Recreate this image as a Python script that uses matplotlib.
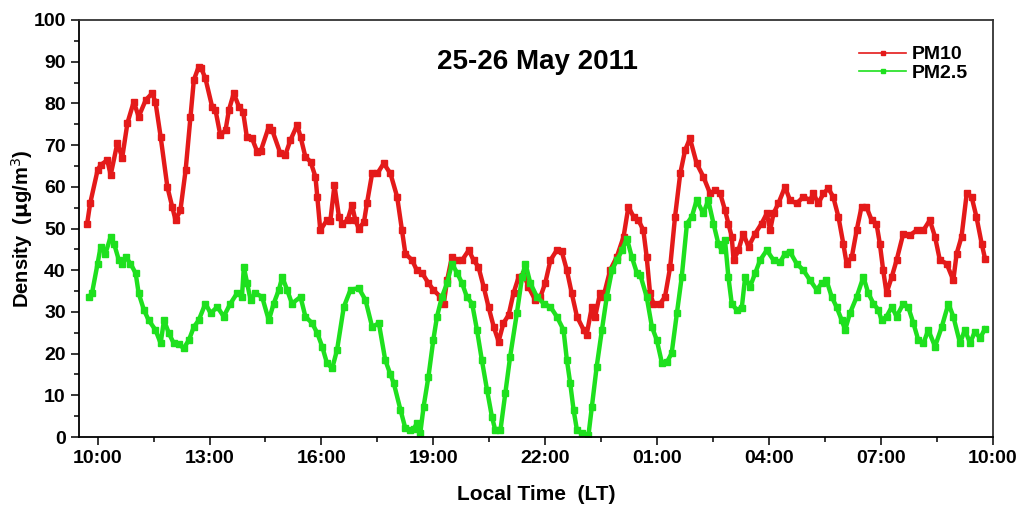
import matplotlib
matplotlib.use('Agg')
import matplotlib.pyplot as plt
from matplotlib.ticker import MultipleLocator

plt.rcParams['font.family'] = ['Liberation Sans', 'DejaVu Sans']

# hours after 10:00 LT on 25 May
t_pm10 = [-0.28, -0.2, 0.0, 0.08, 0.26, 0.35, 0.53, 0.66, 0.8, 0.97,
          1.1, 1.29, 1.46, 1.55, 1.69, 1.87, 2.0, 2.09, 2.22, 2.36,
          2.49, 2.58, 2.71, 2.78, 2.89, 3.07, 3.16, 3.29, 3.43, 3.52,
          3.65, 3.79, 3.9, 4.0, 4.14, 4.28, 4.37, 4.59, 4.68, 4.9,
          5.03, 5.17, 5.35, 5.44, 5.57, 5.71, 5.84, 5.89, 5.97, 6.15,
          6.24, 6.35, 6.47, 6.56, 6.7, 6.82, 6.91, 7.0, 7.14, 7.22,
          7.36, 7.5, 7.67, 7.85, 8.03, 8.16, 8.25, 8.43, 8.56, 8.7,
          8.87, 9.0, 9.19, 9.28, 9.37, 9.5, 9.64, 9.77, 9.95, 10.08,
          10.21, 10.35, 10.48, 10.62, 10.75, 10.88, 11.02, 11.15, 11.29, 11.42,
          11.55, 11.73, 11.87, 12.0, 12.14, 12.31, 12.44, 12.58, 12.71, 12.85,
          13.03, 13.11, 13.25, 13.34, 13.47, 13.56, 13.74, 13.92, 14.1, 14.23,
          14.37, 14.5, 14.63, 14.72, 14.81, 14.9, 15.08, 15.21, 15.35, 15.48,
          15.62, 15.75, 15.88, 16.06, 16.24, 16.42, 16.56, 16.69, 16.82, 16.91,
          17.0, 17.05, 17.18, 17.31, 17.45, 17.63, 17.8, 17.94, 18.03, 18.12,
          18.25, 18.43, 18.56, 18.74, 18.92, 19.1, 19.19, 19.32, 19.46, 19.59,
          19.72, 19.86, 19.99, 20.08, 20.22, 20.35, 20.48, 20.61, 20.75, 20.88,
          20.97, 21.06, 21.15, 21.29, 21.42, 21.6, 21.78, 21.96, 22.14, 22.31,
          22.45, 22.58, 22.76, 22.94, 23.03, 23.16, 23.3, 23.43, 23.56, 23.7,
          23.79]
pm10 = [51.2, 56, 64, 65.2, 66.4, 62.8, 70.5, 67, 75.3, 80.4,
        76.8, 80.8, 82.4, 80.4, 72, 60, 55.2, 52, 54.4, 64,
        76.8, 85.6, 88.8, 88.4, 86, 79.2, 78.4, 72.4, 73.6, 78.4,
        82.4, 79.2, 78, 72, 71.6, 68.4, 68.5, 74.4, 73.6, 68,
        67.6, 71.2, 74.8, 72, 67.2, 66, 62.4, 57.6, 49.6, 52,
        51.9, 60.4, 52.8, 51.2, 52, 55.6, 52, 50, 51.5, 56,
        63.2, 63.2, 65.6, 63.2, 57.6, 49.6, 44, 42.4, 40, 39.3,
        36.9, 35.3, 33.6, 32, 37.6, 43.2, 42.4, 42.4, 44.8, 42.4,
        40.8, 36, 31.2, 26.4, 22.9, 27.3, 29.3, 34.5, 38.4, 39.2,
        36, 32.9, 33.6, 36.9, 42.4, 44.8, 44.6, 40, 34.5, 28.9,
        25.7, 24.5, 31.2, 28.9, 34.5, 33.6, 40, 43.2, 48, 55.2,
        52.8, 52, 49.6, 43.2, 34.5, 32, 32, 33.6, 40.8, 52.8,
        63.2, 68.8, 71.6, 65.6, 62.4, 58.4, 59.2, 58.4, 54.4, 51.2,
        48, 42.4, 44.8, 48.8, 45.6, 48.8, 51.2, 53.6, 49.6, 53.6,
        56, 60, 56.8, 56, 57.6, 56.8, 58.4, 56, 58.4, 59.6,
        57.6, 52.8, 46.4, 41.6, 43.2, 49.6, 55.2, 55.2, 52, 51.2,
        46.4, 40, 34.5, 38.4, 42.4, 48.8, 48.4, 49.6, 49.6, 52,
        48, 42.4, 41.6, 37.6, 44, 48, 58.4, 57.6, 52.8, 46.4,
        42.8]

t_pm25 = [-0.23, -0.15, 0.0, 0.08, 0.21, 0.35, 0.44, 0.57, 0.66, 0.75,
          0.88, 1.02, 1.1, 1.24, 1.37, 1.55, 1.69, 1.78, 1.91, 2.04,
          2.18, 2.31, 2.45, 2.58, 2.71, 2.89, 3.03, 3.21, 3.38, 3.56,
          3.74, 3.87, 3.92, 4.01, 4.1, 4.23, 4.41, 4.59, 4.72, 4.86,
          4.95, 5.08, 5.21, 5.44, 5.57, 5.75, 5.89, 6.02, 6.15, 6.29,
          6.42, 6.6, 6.78, 7.0, 7.18, 7.36, 7.54, 7.71, 7.85, 7.94,
          8.12, 8.25, 8.38, 8.48, 8.56, 8.65, 8.74, 8.87, 9.0, 9.1,
          9.23, 9.37, 9.5, 9.64, 9.77, 9.9, 10.04, 10.17, 10.3, 10.44,
          10.57, 10.66, 10.8, 10.93, 11.06, 11.24, 11.38, 11.47, 11.6, 11.78,
          11.96, 12.14, 12.31, 12.49, 12.58, 12.67, 12.76, 12.85, 12.98, 13.16,
          13.25, 13.38, 13.52, 13.65, 13.79, 13.92, 14.06, 14.19, 14.32, 14.46,
          14.55, 14.72, 14.86, 14.99, 15.13, 15.26, 15.39, 15.53, 15.66, 15.8,
          15.93, 16.06, 16.24, 16.37, 16.51, 16.64, 16.73, 16.82, 16.91, 17.0,
          17.13, 17.27, 17.36, 17.49, 17.63, 17.76, 17.94, 18.12, 18.3, 18.43,
          18.56, 18.74, 18.92, 19.1, 19.28, 19.41, 19.54, 19.68, 19.81, 19.95,
          20.04, 20.17, 20.35, 20.53, 20.66, 20.8, 20.93, 21.02, 21.15, 21.29,
          21.42, 21.6, 21.73, 21.87, 22.0, 22.14, 22.27, 22.45, 22.63, 22.81,
          22.94, 23.12, 23.25, 23.39, 23.52, 23.66, 23.79]
pm25 = [33.6, 34.5, 41.6, 45.6, 44, 48, 46.4, 42.4, 41.6, 43.2,
        41.6, 39.3, 34.5, 30.5, 28, 25.7, 22.5, 28, 24.9, 22.5,
        22.2, 21.3, 23.3, 26.4, 28, 32, 29.7, 31.2, 28.9, 32,
        34.5, 33.6, 40.8, 36.9, 32.9, 34.5, 33.6, 28, 32, 35.3,
        38.4, 35.3, 32, 33.6, 28.9, 27.3, 24.9, 21.7, 17.7, 16.5,
        20.9, 31.2, 35.3, 35.7, 32.9, 26.4, 27.3, 18.5, 15, 12.9,
        6.5, 2.1, 1.7, 2, 3.3, 0.9, 7.3, 14.5, 23.3, 28.9,
        33.6, 36.9, 41.6, 39.3, 36.9, 33.6, 32, 25.7, 18.5, 11.3,
        4.9, 1.7, 1.7, 10.5, 19.3, 29.7, 38.4, 41.6, 36.9, 33.6,
        32, 31.2, 28.9, 25.7, 18.5, 12.9, 6.5, 1.7, 0.9, 0.5,
        7.3, 16.9, 25.7, 33.6, 40, 42.4, 44.8, 47.6, 43.2, 39.3,
        38.8, 33.6, 26.4, 23.3, 17.7, 17.9, 20.1, 29.7, 38.4, 51.2,
        52.8, 56.8, 53.6, 56.8, 51.2, 46.4, 44.8, 47.2, 38.4, 32,
        30.5, 31, 38.4, 36, 39.3, 42.4, 44.8, 42.4, 42, 44,
        44.4, 41.6, 40, 37.6, 35.3, 36.9, 37.6, 33.6, 31.2, 28,
        25.7, 29.7, 33.6, 38.4, 34.5, 32, 30.5, 28, 28.9, 31.2,
        28.9, 32, 31.2, 27.3, 23.3, 22.5, 25.7, 21.7, 26.4, 32,
        28.9, 22.5, 25.7, 22.5, 25.3, 23.7, 26]

tick_pos = [0, 3, 6, 9, 12, 15, 18, 21, 24]
tick_labels = ['10:00', '13:00', '16:00', '19:00', '22:00',
               '01:00', '04:00', '07:00', '10:00']

fig = plt.figure(figsize=(10.28, 5.07), dpi=100)
ax = fig.add_axes([0.0768, 0.138, 0.889, 0.8226])

ax.plot(t_pm10, pm10, color='#e41a1a', marker='s', ms=4, lw=3.2,
        label='PM10')
ax.plot(t_pm25, pm25, color='#1ee01e', marker='s', ms=4, lw=3.2,
        label='PM2.5')

ax.set_xlim(-0.5, 24)
ax.set_ylim(0, 100)
ax.set_xticks(tick_pos)
ax.set_xticklabels(tick_labels)
ax.xaxis.set_minor_locator(MultipleLocator(1.5))
ax.yaxis.set_major_locator(MultipleLocator(10))
ax.yaxis.set_minor_locator(MultipleLocator(5))

ax.tick_params(which='both', direction='out', top=False, right=False,
               width=1.1)
ax.tick_params(which='major', length=6, labelsize=14)
ax.tick_params(which='minor', length=3.5)
for lab in ax.get_xticklabels() + ax.get_yticklabels():
    lab.set_fontweight('bold')

for s in ax.spines.values():
    s.set_linewidth(1.3)
    s.set_color('#333333')
ax.spines['left'].set_color('black')
ax.spines['bottom'].set_color('black')

ax.set_xlabel('Local Time  (LT)', fontsize=15, fontweight='bold', labelpad=13)
ax.set_ylabel(r'Density  ($\mathbf{\mu}$g/m$^3$)', fontsize=14.5,
              fontweight='bold', va='center')
ax.yaxis.set_label_coords(-0.062, 0.5)

ax.text(0.502, 0.9, '25-26 May 2011', transform=ax.transAxes,
        ha='center', va='center', fontsize=20, fontweight='bold')

leg = ax.legend(loc='upper right', bbox_to_anchor=(0.992, 0.98),
                frameon=False, handlelength=2.4, handletextpad=0.3,
                labelspacing=0.05, prop={'weight': 'bold', 'size': 14})
for l in leg.get_lines():
    l.set_linewidth(1.2)
    l.set_markersize(3)

fig.savefig('out.png', dpi=100)
